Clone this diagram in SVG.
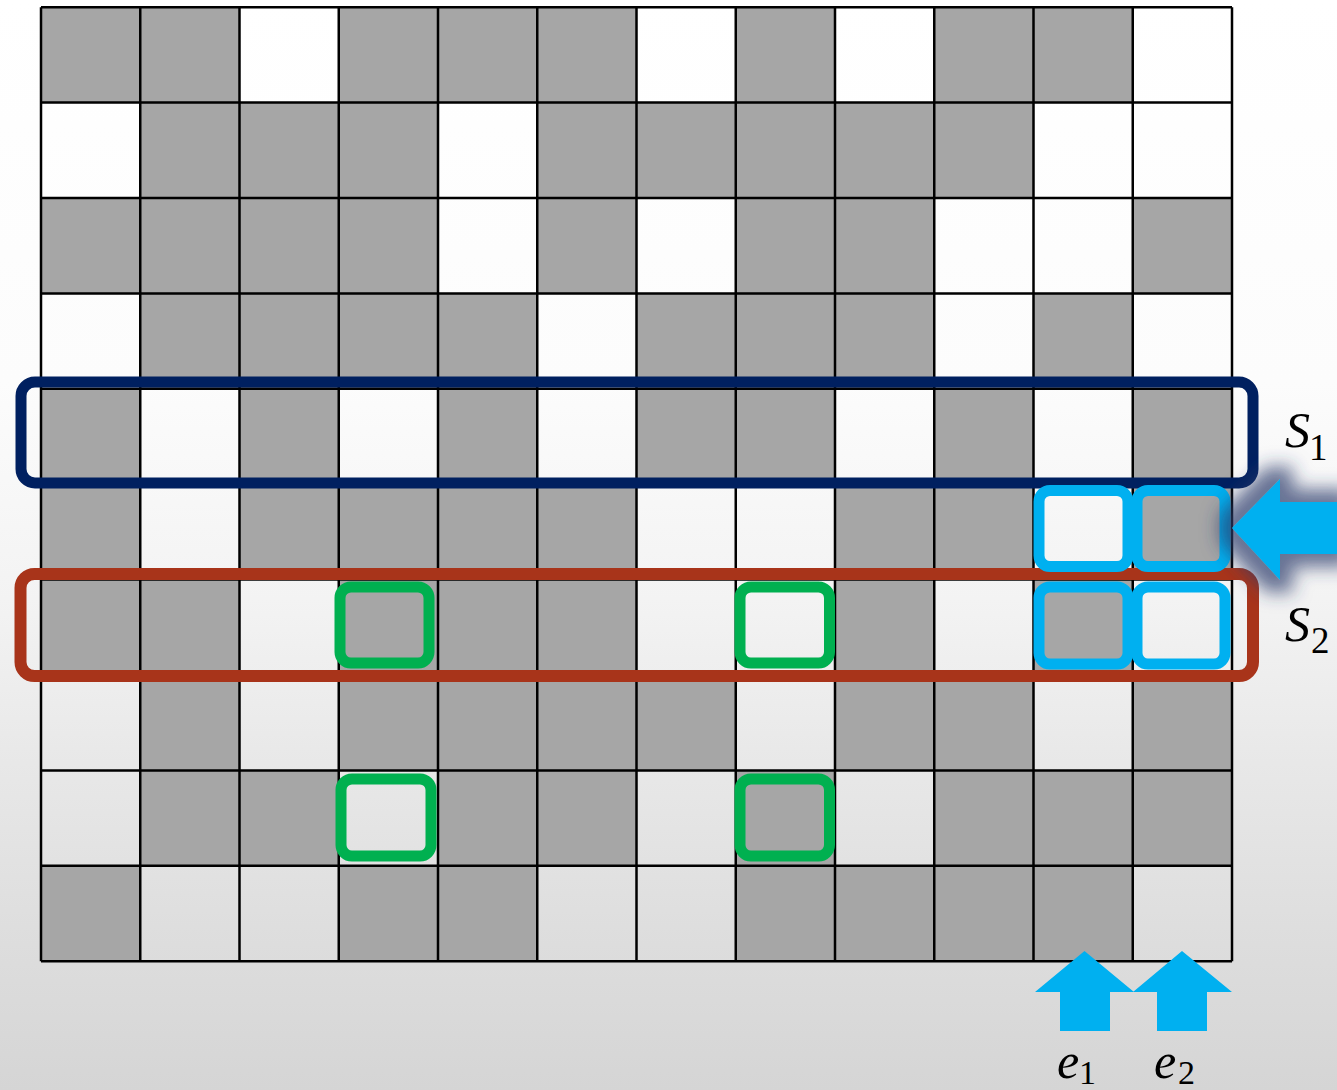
<svg xmlns="http://www.w3.org/2000/svg" width="1337" height="1090" viewBox="0 0 1337 1090">
<defs>
<linearGradient id="bg" x1="0" y1="0" x2="0" y2="1">
<stop offset="0" stop-color="#ffffff"/>
<stop offset="0.35" stop-color="#fcfcfc"/>
<stop offset="0.55" stop-color="#f3f3f3"/>
<stop offset="0.7" stop-color="#e8e8e8"/>
<stop offset="0.85" stop-color="#dedede"/>
<stop offset="1" stop-color="#d5d5d5"/>
</linearGradient>
<filter id="sh" filterUnits="userSpaceOnUse" x="1170" y="410" width="180" height="240">
<feMorphology in="SourceAlpha" operator="dilate" radius="13" result="d"/>
<feGaussianBlur in="d" stdDeviation="9" result="b"/>
<feFlood flood-color="#2b3b6b" flood-opacity="0.7"/>
<feComposite in2="b" operator="in" result="s"/>
<feMerge><feMergeNode in="s"/><feMergeNode in="SourceGraphic"/></feMerge>
</filter>
<style>
.g{fill:#a6a6a6}
.grid{fill:none;stroke:#000;stroke-width:2.5}
.box{fill:none}
.navy{stroke:#002060;stroke-width:11}
.red{stroke:#a8341a;stroke-width:12}
.green{stroke:#00b050;stroke-width:11}
.blue{stroke:#00b0f0;stroke-width:11}
.arrow{fill:#00b0f0}
.lbl{font-family:"Liberation Serif","DejaVu Serif",serif;fill:#000}
.it{font-style:italic;font-size:50px}
.sub{font-size:37px}
.sube{font-size:34px}
</style>
</defs>
<rect id="background" x="0" y="0" width="1337" height="1090" fill="url(#bg)"/>
<g id="cells">
<rect class="g" x="41" y="7.2" width="99.25" height="95.4"/>
<rect class="g" x="140.25" y="7.2" width="99.25" height="95.4"/>
<rect class="g" x="338.75" y="7.2" width="99.25" height="95.4"/>
<rect class="g" x="438" y="7.2" width="99.25" height="95.4"/>
<rect class="g" x="537.25" y="7.2" width="99.25" height="95.4"/>
<rect class="g" x="735.75" y="7.2" width="99.25" height="95.4"/>
<rect class="g" x="934.25" y="7.2" width="99.25" height="95.4"/>
<rect class="g" x="1033.5" y="7.2" width="99.25" height="95.4"/>
<rect class="g" x="140.25" y="102.6" width="99.25" height="95.4"/>
<rect class="g" x="239.5" y="102.6" width="99.25" height="95.4"/>
<rect class="g" x="338.75" y="102.6" width="99.25" height="95.4"/>
<rect class="g" x="537.25" y="102.6" width="99.25" height="95.4"/>
<rect class="g" x="636.5" y="102.6" width="99.25" height="95.4"/>
<rect class="g" x="735.75" y="102.6" width="99.25" height="95.4"/>
<rect class="g" x="835" y="102.6" width="99.25" height="95.4"/>
<rect class="g" x="934.25" y="102.6" width="99.25" height="95.4"/>
<rect class="g" x="41" y="198" width="99.25" height="95.4"/>
<rect class="g" x="140.25" y="198" width="99.25" height="95.4"/>
<rect class="g" x="239.5" y="198" width="99.25" height="95.4"/>
<rect class="g" x="338.75" y="198" width="99.25" height="95.4"/>
<rect class="g" x="537.25" y="198" width="99.25" height="95.4"/>
<rect class="g" x="735.75" y="198" width="99.25" height="95.4"/>
<rect class="g" x="835" y="198" width="99.25" height="95.4"/>
<rect class="g" x="1132.75" y="198" width="99.25" height="95.4"/>
<rect class="g" x="140.25" y="293.4" width="99.25" height="95.4"/>
<rect class="g" x="239.5" y="293.4" width="99.25" height="95.4"/>
<rect class="g" x="338.75" y="293.4" width="99.25" height="95.4"/>
<rect class="g" x="438" y="293.4" width="99.25" height="95.4"/>
<rect class="g" x="636.5" y="293.4" width="99.25" height="95.4"/>
<rect class="g" x="735.75" y="293.4" width="99.25" height="95.4"/>
<rect class="g" x="835" y="293.4" width="99.25" height="95.4"/>
<rect class="g" x="1033.5" y="293.4" width="99.25" height="95.4"/>
<rect class="g" x="41" y="388.8" width="99.25" height="95.4"/>
<rect class="g" x="239.5" y="388.8" width="99.25" height="95.4"/>
<rect class="g" x="438" y="388.8" width="99.25" height="95.4"/>
<rect class="g" x="636.5" y="388.8" width="99.25" height="95.4"/>
<rect class="g" x="735.75" y="388.8" width="99.25" height="95.4"/>
<rect class="g" x="934.25" y="388.8" width="99.25" height="95.4"/>
<rect class="g" x="1132.75" y="388.8" width="99.25" height="95.4"/>
<rect class="g" x="41" y="484.2" width="99.25" height="95.4"/>
<rect class="g" x="239.5" y="484.2" width="99.25" height="95.4"/>
<rect class="g" x="338.75" y="484.2" width="99.25" height="95.4"/>
<rect class="g" x="438" y="484.2" width="99.25" height="95.4"/>
<rect class="g" x="537.25" y="484.2" width="99.25" height="95.4"/>
<rect class="g" x="835" y="484.2" width="99.25" height="95.4"/>
<rect class="g" x="934.25" y="484.2" width="99.25" height="95.4"/>
<rect class="g" x="1132.75" y="484.2" width="99.25" height="95.4"/>
<rect class="g" x="41" y="579.6" width="99.25" height="95.4"/>
<rect class="g" x="140.25" y="579.6" width="99.25" height="95.4"/>
<rect class="g" x="338.75" y="579.6" width="99.25" height="95.4"/>
<rect class="g" x="438" y="579.6" width="99.25" height="95.4"/>
<rect class="g" x="537.25" y="579.6" width="99.25" height="95.4"/>
<rect class="g" x="835" y="579.6" width="99.25" height="95.4"/>
<rect class="g" x="1033.5" y="579.6" width="99.25" height="95.4"/>
<rect class="g" x="140.25" y="675" width="99.25" height="95.4"/>
<rect class="g" x="338.75" y="675" width="99.25" height="95.4"/>
<rect class="g" x="438" y="675" width="99.25" height="95.4"/>
<rect class="g" x="537.25" y="675" width="99.25" height="95.4"/>
<rect class="g" x="636.5" y="675" width="99.25" height="95.4"/>
<rect class="g" x="835" y="675" width="99.25" height="95.4"/>
<rect class="g" x="934.25" y="675" width="99.25" height="95.4"/>
<rect class="g" x="1132.75" y="675" width="99.25" height="95.4"/>
<rect class="g" x="140.25" y="770.4" width="99.25" height="95.4"/>
<rect class="g" x="239.5" y="770.4" width="99.25" height="95.4"/>
<rect class="g" x="438" y="770.4" width="99.25" height="95.4"/>
<rect class="g" x="537.25" y="770.4" width="99.25" height="95.4"/>
<rect class="g" x="735.75" y="770.4" width="99.25" height="95.4"/>
<rect class="g" x="934.25" y="770.4" width="99.25" height="95.4"/>
<rect class="g" x="1033.5" y="770.4" width="99.25" height="95.4"/>
<rect class="g" x="1132.75" y="770.4" width="99.25" height="95.4"/>
<rect class="g" x="41" y="865.8" width="99.25" height="95.4"/>
<rect class="g" x="338.75" y="865.8" width="99.25" height="95.4"/>
<rect class="g" x="438" y="865.8" width="99.25" height="95.4"/>
<rect class="g" x="735.75" y="865.8" width="99.25" height="95.4"/>
<rect class="g" x="835" y="865.8" width="99.25" height="95.4"/>
<rect class="g" x="934.25" y="865.8" width="99.25" height="95.4"/>
<rect class="g" x="1033.5" y="865.8" width="99.25" height="95.4"/>
</g>
<g id="grid-lines">
<path class="grid" d="M41,7.2V961.2M140.25,7.2V961.2M239.5,7.2V961.2M338.75,7.2V961.2M438,7.2V961.2M537.25,7.2V961.2M636.5,7.2V961.2M735.75,7.2V961.2M835,7.2V961.2M934.25,7.2V961.2M1033.5,7.2V961.2M1132.75,7.2V961.2M1232,7.2V961.2M41,7.2H1232M41,102.6H1232M41,198H1232M41,293.4H1232M41,388.8H1232M41,484.2H1232M41,579.6H1232M41,675H1232M41,770.4H1232M41,865.8H1232M41,961.2H1232"/>
</g>
<g id="row-S1"><rect class="box navy" x="21" y="382" width="1232" height="101" rx="14"/></g>
<g id="row-S2"><rect class="box red" x="20.5" y="574" width="1232.5" height="102" rx="14"/></g>
<g id="green-marks">
<rect class="box green" x="340" y="587" width="89" height="76" rx="11"/>
<rect class="box green" x="341" y="779" width="90" height="77" rx="11"/>
<rect class="box green" x="740" y="587" width="89.5" height="76" rx="11"/>
<rect class="box green" x="740" y="779" width="89.5" height="77" rx="11"/>
</g>
<g id="blue-marks">
<rect class="box blue" x="1039" y="490.5" width="89" height="76" rx="11"/>
<rect class="box blue" x="1137" y="490.5" width="88" height="76" rx="11"/>
<rect class="box blue" x="1039" y="587" width="89" height="77" rx="11"/>
<rect class="box blue" x="1137" y="587" width="88" height="77" rx="11"/>
</g>
<g id="arrows">
<path class="arrow" filter="url(#sh)" d="M1232,528 L1280,479 L1280,502 L1345,502 L1345,554 L1280,554 L1280,580 Z"/>
<path class="arrow" d="M1084.5,951 L1134,992 L1110,992 L1110,1031 L1060,1031 L1060,992 L1035,992 Z"/>
<path class="arrow" d="M1182,951 L1232,992 L1207,992 L1207,1031 L1157,1031 L1157,992 L1133,992 Z"/>
</g>
<g id="labels" class="lbl">
<text><tspan class="it" x="1285" y="447">S</tspan><tspan class="sub" x="1309" y="460">1</tspan></text>
<text><tspan class="it" x="1285" y="641">S</tspan><tspan class="sub" x="1311" y="653">2</tspan></text>
<text><tspan class="it" x="1057" y="1078">e</tspan><tspan class="sube" x="1079" y="1084">1</tspan></text>
<text><tspan class="it" x="1154" y="1078">e</tspan><tspan class="sube" x="1178" y="1084">2</tspan></text>
</g>
</svg>
